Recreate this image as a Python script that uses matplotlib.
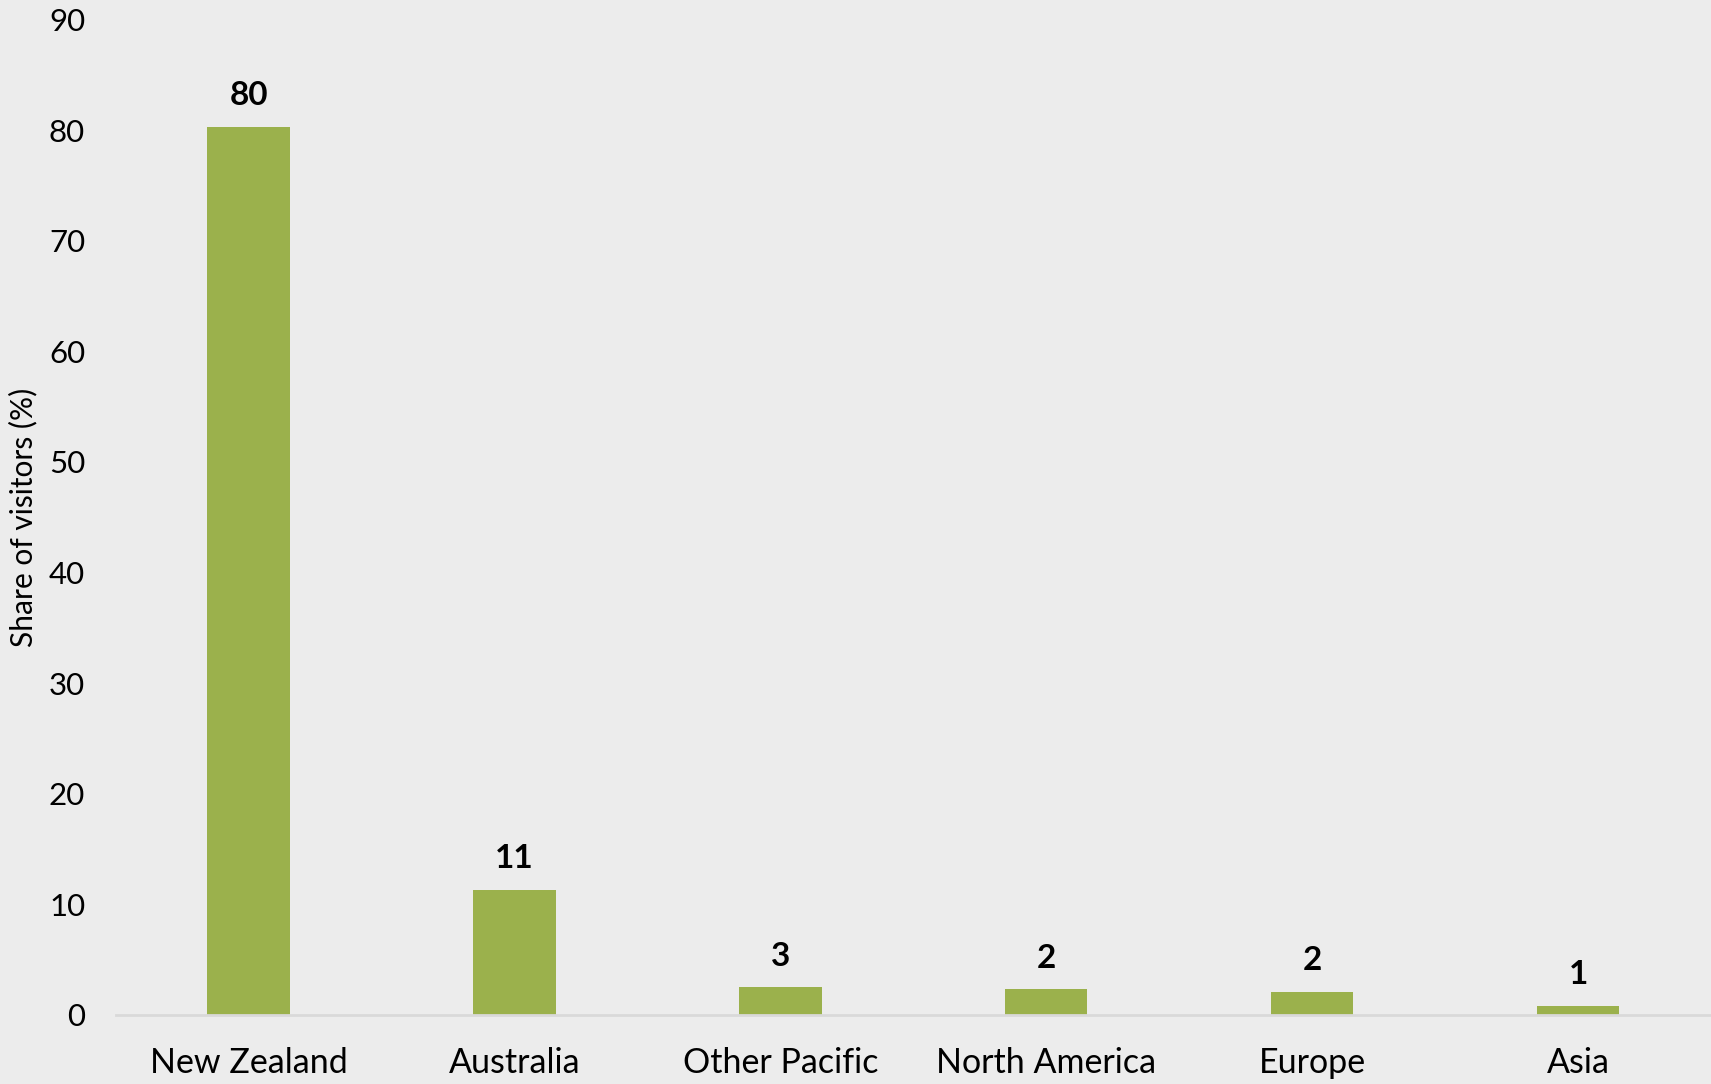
import matplotlib
matplotlib.use("Agg")
import matplotlib.pyplot as plt

# Share of visitors by region of origin (%)
regions = ["New Zealand", "Australia", "Other Pacific", "North America", "Europe", "Asia"]
shares = [80.3, 11.3, 2.5, 2.3, 2.1, 0.8]
y_ticks = [0, 10, 20, 30, 40, 50, 60, 70, 80, 90]

BG = "#ECECEC"
BAR = "#9BB14C"
AXIS = "#D9D9D9"

plt.rcParams["font.family"] = ["Lato", "DejaVu Sans"]

fig = plt.figure(figsize=(17.11, 10.84), dpi=100, facecolor=BG)
ax = fig.add_axes([0.0676, 0.0638, 0.9324, 0.9182], facecolor=BG)

x = range(len(regions))
ax.bar(x, shares, width=0.31, color=BAR, zorder=2)

for xi, v in zip(x, shares):
    ax.annotate(f"{int(v + 0.5)}", (xi, v), xytext=(0, 12), textcoords="offset points",
                ha="center", va="bottom", fontsize=24, fontweight="bold", color="black")

ax.set_xlim(-0.5, len(regions) - 0.5)
ax.set_ylim(0, 90)
ax.set_yticks(y_ticks)
ax.set_xticks(list(x))
ax.set_xticklabels(regions)

for side in ["top", "right", "left"]:
    ax.spines[side].set_visible(False)
ax.spines["bottom"].set_color(AXIS)
ax.spines["bottom"].set_linewidth(2)

ax.tick_params(axis="both", length=0, colors="black")
ax.tick_params(axis="x", labelsize=24.5, pad=23)
ax.tick_params(axis="y", labelsize=22.5, pad=22)

ax.set_ylabel("Share of visitors (%)", fontsize=21.5, labelpad=8)

fig.savefig("out.png", dpi=100, facecolor=BG)
